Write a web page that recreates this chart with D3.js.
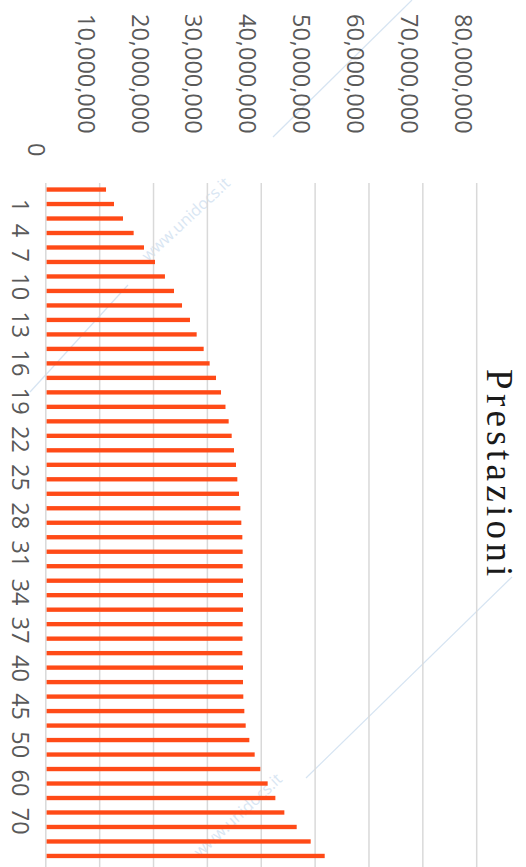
<!DOCTYPE html>
<html>
<head>
<meta charset="utf-8">
<script src="https://cdn.jsdelivr.net/npm/d3@7"></script>
<style>
  html, body { margin: 0; padding: 0; background: #fff; }
  svg { display: block; }
</style>
</head>
<body>
<div id="chart"></div>
<script>
(function() {

// data
let title = 'Prestazioni';
let categories = [1, 2, 3, 4, 5, 6, 7, 8, 9, 10, 11, 12, 13, 14, 15, 16, 17, 18, 19, 20,
  21, 22, 23, 24, 25, 26, 27, 28, 29, 30, 31, 32, 33, 34, 35, 36, 37, 38, 39, 40,
  41, 42, 43, 44, 45, 46, 47];
let values = [11180000, 12660000, 14330000, 16310000, 18230000, 20270000, 22120000, 23800000,
  25290000, 26770000, 28010000, 29310000, 30420000, 31600000, 32530000, 33360000,
  33950000, 34510000, 34940000, 35310000, 35560000, 35870000, 36120000, 36300000,
  36490000, 36550000, 36550000, 36610000, 36610000, 36610000, 36550000, 36520000,
  36490000, 36610000, 36610000, 36670000, 36860000, 37110000, 37790000, 38780000,
  39830000, 41190000, 42620000, 44290000, 46580000, 49180000, 51780000];
let valueTicks = [0, 10000000, 20000000, 30000000, 40000000, 50000000, 60000000, 70000000, 80000000];
let categoryTickLabels = ['1', '4', '7', '10', '13', '16', '19', '22', '25', '28', '31', '34',
  '37', '40', '45', '50', '60', '70'];

// svg params (the chart is shown turned a quarter turn clockwise)
let width = 526;
let height = 867;
let plot = { top: 182.3, bottom: 863.2, left: 45.8, right: 476.7 };

let svg = d3.select('#chart')
  .append('svg')
  .attr('width', width)
  .attr('height', height);

let x = d3.scaleLinear()
  .domain([0, 80000000])
  .range([plot.left, plot.right]);

let y = d3.scaleBand()
  .domain(categories)
  .range([plot.top, plot.bottom])
  .paddingInner(0.7)
  .paddingOuter(0.35);

let fmt = d3.format(',');

// faint watermark of the source site
let wm = svg.append('g').attr('class', 'watermark');
let wmLines = [[30, 392, 128, 285], [273, 137, 412, 0], [306, 778, 512, 577]];
wm.selectAll('line')
  .data(wmLines)
  .enter()
  .append('line')
  .attr('x1', d => d[0]).attr('y1', d => d[1])
  .attr('x2', d => d[2]).attr('y2', d => d[3])
  .style('stroke', '#d6e4f2')
  .style('stroke-width', 1.2);
wm.selectAll('text')
  .data([[148, 262], [200, 858]])
  .enter()
  .append('text')
  .attr('transform', d => 'translate(' + d[0] + ',' + d[1] + ') rotate(-43)')
  .style('font-family', 'Open Sans, sans-serif')
  .style('font-size', '16px')
  .style('fill', '#d9e6f3')
  .text('www.unidocs.it');

// gridlines
svg.append('g')
  .selectAll('line')
  .data(valueTicks)
  .enter()
  .append('line')
  .attr('x1', d => x(d))
  .attr('x2', d => x(d))
  .attr('y1', 183)
  .attr('y2', height)
  .style('stroke', '#d9d9d9')
  .style('stroke-width', 1.5);

// bars
svg.append('g')
  .selectAll('rect')
  .data(values)
  .enter()
  .append('rect')
  .attr('x', x(0) + 0.8)
  .attr('y', (d, i) => y(categories[i]))
  .attr('width', d => x(d) - x(0) - 0.8)
  .attr('height', y.bandwidth())
  .style('fill', '#ff4a17');

// value labels (rotated)
svg.append('g')
  .selectAll('text')
  .data(valueTicks)
  .enter()
  .append('text')
  .attr('transform', d => {
    let bx = d === 0 ? x(d) - 17.5 : x(d) - 22;
    let sy = d === 0 ? 143 : 14;
    return 'translate(' + bx + ',' + sy + ') rotate(90)';
  })
  .style('font-family', 'Open Sans, sans-serif')
  .style('font-size', '23.5px')
  .style('fill', '#595959')
  .text(d => fmt(d));

// category labels, written as one line of text
svg.append('text')
  .attr('transform', 'translate(12,199) rotate(90)')
  .style('font-family', 'Open Sans, sans-serif')
  .style('font-size', '23.5px')
  .style('word-spacing', '5.2px')
  .style('fill', '#595959')
  .text(categoryTickLabels.join(' '));

// title
svg.append('text')
  .attr('transform', 'translate(487,369) rotate(90)')
  .style('font-family', 'Liberation Serif, Times New Roman, serif')
  .style('font-size', '37px')
  .style('letter-spacing', '4.3px')
  .style('fill', '#1a1a1a')
  .text(title);

})();
</script>
</body>
</html>
